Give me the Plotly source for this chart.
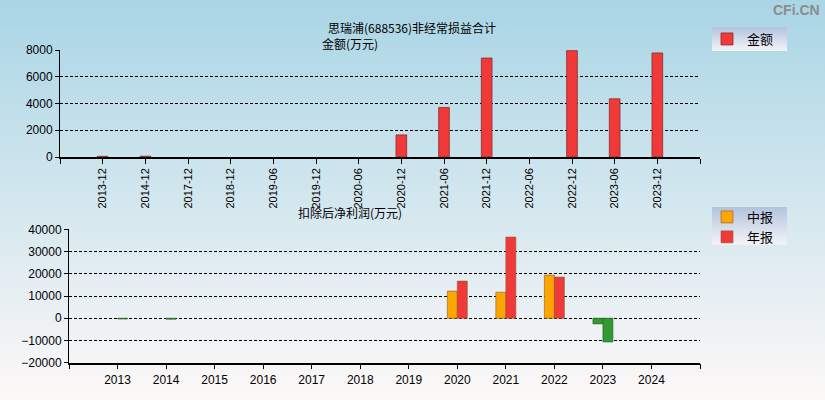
import base64
import plotly.graph_objects as go

# ---------------- data ----------------
top_categories = ["2013-12", "2014-12", "2017-12", "2018-12", "2019-06", "2019-12",
                  "2020-06", "2020-12", "2021-06", "2021-12", "2022-06", "2022-12",
                  "2023-06", "2023-12"]
top_values = [50, 60, None, None, None, None, None, 1650, 3700, 7400, None, 7950, 4350, 7780]

years = [2013, 2014, 2015, 2016, 2017, 2018, 2019, 2020, 2021, 2022, 2023, 2024]
interim_values = [None, None, None, None, None, None, None, 12200, 11700, 19400, -2550, None]
annual_values = [-350, -450, None, None, None, None, None, 16700, 36500, 18500, -10650, None]

title_text = "思瑞浦(688536)非经常损益合计"
top_axis_title = "金额(万元)"
bottom_axis_title = "扣除后净利润(万元)"
top_legend_name = "金额"
interim_name = "中报"
annual_name = "年报"

# ---------------- style ----------------
W, H = 825, 400
CJK = "Noto Sans CJK SC"
NUM = "Liberation Sans"
RED = "#f03a3a"
ORANGE = "#FFA500"
GREEN = "#339933"
GRID_DASH = "3px,2px"


def svg_uri(svg):
    return "data:image/svg+xml;base64," + base64.b64encode(svg.encode("utf-8")).decode()


def grad_svg(w, h, c1, c2):
    return (f"<svg xmlns='http://www.w3.org/2000/svg' width='{w}' height='{h}' "
            f"preserveAspectRatio='none' viewBox='0 0 {w} {h}'>"
            "<defs><linearGradient id='g' x1='0' y1='0' x2='0' y2='1'>"
            f"<stop offset='0' stop-color='{c1}'/><stop offset='1' stop-color='{c2}'/>"
            "</linearGradient></defs>"
            f"<rect width='{w}' height='{h}' fill='url(#g)'/></svg>")


def px(xp):
    return xp / W


def py(yp):
    return 1 - yp / H


def positive(vals):
    return [v if (v is not None and v >= 0) else None for v in vals]


def negative(vals):
    return [v if (v is not None and v < 0) else None for v in vals]


top_x = list(range(len(top_categories)))

fig = go.Figure()

fig.add_trace(go.Bar(
    x=top_x, y=top_values, name=top_legend_name, width=0.25,
    marker=dict(color=RED, line=dict(color="#8a2a2a", width=0.8)),
    xaxis="x", yaxis="y", legend="legend",
))

for vals, name, color, group in [(interim_values, interim_name, ORANGE, "interim"),
                                 (annual_values, annual_name, RED, "annual")]:
    fig.add_trace(go.Bar(
        x=years, y=positive(vals), name=name, offsetgroup=group,
        marker=dict(color=color, line=dict(color="#8a5a30", width=0.6)),
        xaxis="x2", yaxis="y2", legend="legend2",
    ))
    fig.add_trace(go.Bar(
        x=years, y=negative(vals), name=name, offsetgroup=group, showlegend=False,
        marker=dict(color=GREEN, line=dict(color="#1f5f1f", width=0.6)),
        xaxis="x2", yaxis="y2",
    ))

tick_font = dict(family=NUM, size=12, color="#000")

fig.update_layout(
    width=W, height=H,
    margin=dict(l=0, r=0, t=0, b=0, pad=0, autoexpand=False),
    paper_bgcolor="#d5e8ef",
    plot_bgcolor="rgba(0,0,0,0)",
    barmode="group", bargap=0.588, bargroupgap=0,
    font=dict(family=CJK, size=12, color="#000"),
    xaxis=dict(
        domain=[px(60), px(700)], range=[-1, len(top_categories)],
        tickmode="array",
        tickvals=[-1] + top_x + [len(top_categories)],
        ticktext=[""] + top_categories + [""],
        tickangle=-90, tickfont=dict(family=NUM, size=11, color="#000"),
        ticks="outside", ticklen=5, tickcolor="#000",
        showline=True, linecolor="#000", linewidth=1.5,
        showgrid=False, zeroline=False, anchor="y", automargin=False,
    ),
    yaxis=dict(
        domain=[py(157), py(50)], range=[0, 8000], dtick=2000, tickformat="d",
        tickfont=tick_font, ticks="outside", ticklen=4, tickcolor="#000",
        showline=True, linecolor="#000", linewidth=1,
        showgrid=True, gridcolor="#000", griddash=GRID_DASH, gridwidth=1,
        zeroline=False, anchor="x", automargin=False,
    ),
    xaxis2=dict(
        domain=[px(69), px(700)], range=[years[0] - 1, years[-1] + 1],
        tickmode="array",
        tickvals=[years[0] - 1] + years + [years[-1] + 1],
        ticktext=[""] + [str(y) for y in years] + [""],
        tickfont=tick_font,
        ticks="outside", ticklen=5, tickcolor="#000",
        showline=True, linecolor="#000", linewidth=1.5,
        showgrid=False, zeroline=False, anchor="y2", automargin=False,
    ),
    yaxis2=dict(
        domain=[py(362.7), py(229.3)], range=[-20000, 40000], dtick=10000, tickformat="d",
        tickfont=tick_font, ticks="outside", ticklen=4, tickcolor="#000",
        showline=True, linecolor="#000", linewidth=1,
        showgrid=True, gridcolor="#000", griddash=GRID_DASH, gridwidth=1,
        zeroline=False, anchor="x2", automargin=False,
    ),
    legend=dict(
        x=px(707), y=py(24), xanchor="left", yanchor="top",
        bgcolor="rgba(0,0,0,0)", font=dict(family=CJK, size=13, color="#000"),
        itemwidth=30, tracegroupgap=0,
    ),
    legend2=dict(
        x=px(707), y=py(202), xanchor="left", yanchor="top",
        bgcolor="rgba(0,0,0,0)", font=dict(family=CJK, size=13, color="#000"),
        itemwidth=30, tracegroupgap=0,
    ),
    images=[
        dict(source=svg_uri(grad_svg(W, H, "#a9d5e5", "#fdf8f8")), xref="paper", yref="paper",
             x=0, y=1, sizex=1, sizey=1, sizing="stretch", xanchor="left", yanchor="top",
             layer="below"),
        dict(source=svg_uri(grad_svg(75, 24, "#b3c3dd", "#f4f4f8")), xref="paper", yref="paper",
             x=px(712), y=py(27), sizex=75 / W, sizey=24 / H, sizing="stretch",
             xanchor="left", yanchor="top", layer="below"),
        dict(source=svg_uri(grad_svg(75, 38, "#b3c3dd", "#f4f4f8")), xref="paper", yref="paper",
             x=px(712), y=py(207), sizex=75 / W, sizey=38 / H, sizing="stretch",
             xanchor="left", yanchor="top", layer="below"),
    ],
    annotations=[
        dict(text=title_text, x=px(412), y=py(17), xref="paper", yref="paper",
             showarrow=False, font=dict(family=CJK, size=12, color="#000")),
        dict(text=top_axis_title, x=px(350), y=py(33), xref="paper", yref="paper",
             showarrow=False, font=dict(family=CJK, size=12, color="#000")),
        dict(text=bottom_axis_title, x=px(350), y=py(212), xref="paper", yref="paper",
             showarrow=False, font=dict(family=CJK, size=12, color="#000")),
        dict(text="<b>CFi.CN</b>", x=px(822), y=py(10), xref="paper", yref="paper",
             xanchor="right", yanchor="middle", showarrow=False,
             font=dict(family=NUM, size=14, color="#8c8c8c")),
    ],
    showlegend=True,
)

fig.write_html("out.html", config={"displayModeBar": False},
               post_script="document.body.style.margin='0';")
